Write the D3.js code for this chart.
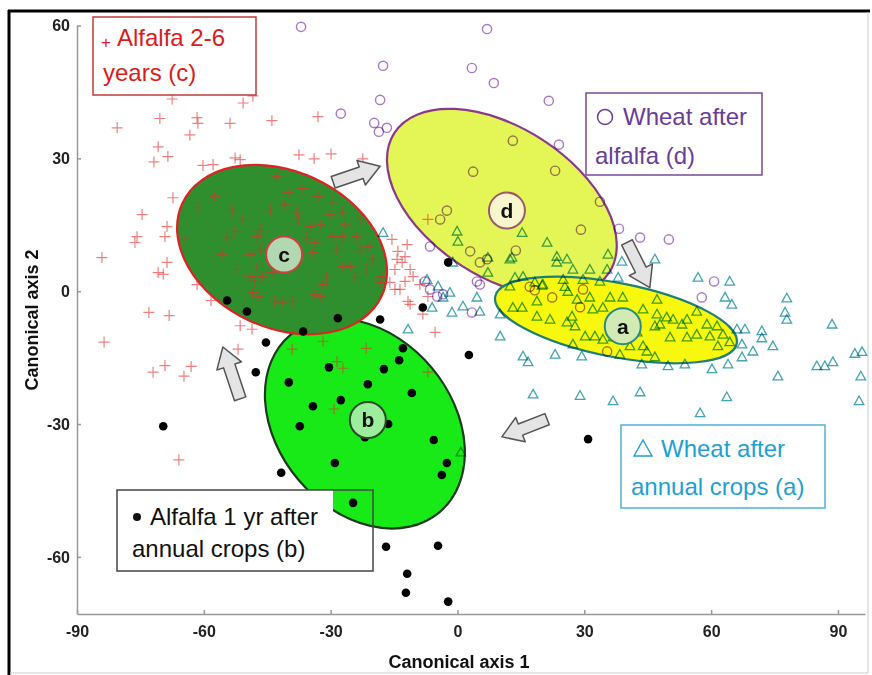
<!DOCTYPE html>
<html>
<head>
<meta charset="utf-8">
<script src="https://cdn.jsdelivr.net/npm/d3@7"></script>
<style>
  body { margin: 0; background: #fff; }
  text { font-family: "Liberation Sans", Arial, sans-serif; }
  .axis text { font-weight: bold; font-size: 16px; fill: #222; }
  .axis path, .axis line { stroke: #999; stroke-width: 1.5; }
</style>
</head>
<body>
<svg id="chart" width="872" height="675"></svg>
<script>
// tick values
var xTicks = [-90, -60, -30, 0, 30, 60, 90];
var yTicks = [60, 30, 0, -30, -60];

// Alfalfa 2-6 years (c)
var alfalfaOld = [
  [-67.5,43.4],[-50.7,42.5],[-48.4,44.1],[-80.5,36.9],[-70.4,39.0],[-61.6,39.2],[-61.4,37.9],[-53.8,37.9],
  [-43.9,38.5],[-63.3,35.3],[-70.8,32.6],[-68.5,30.4],[-71.8,29.2],[-52.6,30.1],[-57.8,28.6],[-60.2,28.4],
  [-37.5,30.8],[-33.0,39.4],[-33.9,29.9],[-29.9,31.0],[-22.4,29.9],[-7.0,16.2],[-67.3,21.1],[-74.6,17.3],
  [-68.7,14.6],[-51.4,29.7],[-84.1,7.6],[-75.8,12.3],[-76.3,11.0],[-69.2,12.3],[-68.7,6.5],[-70.8,4.2],
  [-69.6,3.8],[-61.6,1.5],[-58.3,-2.1],[-73.0,-4.8],[-68.2,-5.5],[-83.6,-11.5],[-48.6,-8.6],[-51.9,-13.1],
  [-72.0,-18.3],[-69.2,-16.8],[-63.0,-17.0],[-64.7,-19.2],[-65.9,-38.1],
  [-42.7,25.9],[-57.4,21.4],[-61.4,18.9],[-53.3,18.4],[-51.0,16.2],[-44.3,18.4],[-40.8,19.5],[-40.1,22.3],
  [-36.5,23.2],[-33.0,21.4],[-29.4,20.2],[-38.0,17.9],[-37.7,16.2],[-34.9,14.6],[-32.5,15.0],[-30.2,17.3],
  [-27.3,17.9],[-26.6,15.0],[-23.1,16.2],[-29.4,12.3],[-27.3,12.3],[-23.8,12.3],[-23.1,9.4],[-28.5,9.4],
  [-33.7,11.0],[-35.6,12.1],[-46.7,13.9],[-47.4,12.3],[-54.5,12.1],[-52.6,13.5],[-64.4,11.7],[-55.7,8.3],
  [-49.1,8.3],[-46.7,9.4],[-47.4,5.4],[-52.1,4.9],[-49.1,3.3],[-47.9,2.2],[-46.2,3.3],[-43.9,4.2],
  [-48.4,-0.3],[-47.2,-1.2],[-43.2,-2.3],[-41.5,-2.5],[-38.9,-2.3],[-33.7,-0.7],[-32.5,-1.2],[-31.8,1.5],
  [-30.9,3.1],[-27.1,5.6],[-25.4,5.6],[-24.2,3.1],[-21.4,4.9],[-20.0,7.2],[-21.2,10.1],[-34.2,8.7],
  [-18.3,2.0],[-14.8,0.4],[-14.3,7.2],[-51.4,-7.8],
  [-11.9,10.5],[-12.4,7.8],[-13.1,6.5],[-11.2,4.9],[-10.5,3.3],[-12.4,2.2],[-13.6,0.4],[-11.7,-2.3],
  [-8.9,1.5],[-7.0,-1.2],[-8.2,-5.2],[-5.3,-9.3],[-14.1,9.0],[-14.8,4.9],[-16.0,2.0],[-17.9,3.3],[-15.5,11.7],
  [-39.1,-13.1],[-31.8,-11.3],[-21.6,-12.9],[-28.5,-15.9],[-27.1,-17.4],[-29.2,-26.6],[-7.0,-18.3],[-11.2,-3.0]
];

// Wheat after alfalfa (d)
var wheatAfterAlfalfa = [
  [-37.0,59.7],[7.0,59.2],[-17.6,50.9],[3.4,50.4],[8.6,47.0],[-18.3,43.2],[21.6,43.0],[-27.6,40.1],
  [-19.7,38.0],[-18.6,36.0],[-16.7,36.9],[24.0,33.1],[13.1,34.0],[3.7,27.0],[23.1,27.2],[-2.5,18.2],
  [-4.1,16.2],[-6.5,10.1],[29.2,13.9],[33.7,20.2],[38.2,14.1],[3.0,9.0],[5.3,6.5],[7.0,7.2],
  [13.8,9.2],[4.6,2.2],[5.3,1.5],[17.1,1.0],[18.3,0.2],[22.4,-1.4],[-7.7,2.2],[-6.5,0.4],
  [-4.8,-1.2],[-3.4,-0.7],[3.4,-4.8],[43.2,12.1],[50.0,11.7],[60.7,2.2],[57.8,-1.4],[29.7,0.4],
  [29.0,-3.6],[35.4,-13.6]
];

// Wheat after annual crops (a)
var wheatAfterAnnual = [
  [35.6,8.3],[38.9,6.7],[46.7,7.2],[31.3,4.9],[27.3,4.9],[35.4,4.9],[38.0,3.1],[56.9,3.1],
  [64.4,2.2],[63.3,-1.4],[64.9,-3.0],[77.9,-1.6],[77.5,-4.8],[77.9,-6.4],[88.6,-7.5],[47.2,-1.9],
  [28.3,-1.9],[31.3,-1.4],[36.1,-1.4],[39.1,-1.4],[32.0,-4.1],[34.4,-3.7],[27.8,-7.9],[30.2,-10.2],
  [32.5,-10.2],[34.4,-10.9],[36.8,-10.4],[43.9,-4.1],[47.2,-5.2],[49.5,-5.9],[51.0,-6.4],[46.7,-7.9],
  [47.9,-7.5],[53.1,-7.5],[50.3,-10.4],[54.3,-10.4],[56.6,-9.8],[59.0,-7.5],[61.4,-7.9],[59.7,-10.2],
  [62.8,-9.8],[64.4,-11.5],[61.6,-12.4],[66.1,-8.6],[68.0,-8.6],[72.0,-9.0],[72.0,-10.6],[69.9,-13.6],
  [67.3,-12.0],[67.3,-14.9],[64.0,-16.5],[60.2,-17.6],[74.6,-12.4],[75.8,-19.2],[85.0,-16.9],[86.9,-16.9],
  [88.8,-16.0],[94.0,-14.1],[95.7,-13.7],[95.4,-19.2],[95.0,-24.8],[29.0,-23.6],[36.8,-24.8],[43.2,-22.8],
  [63.7,-23.9],[57.4,-27.5],[43.6,-16.5],[49.8,-16.9],[53.8,-16.5],[46.7,-14.9],[44.8,-13.6],[43.9,-12.4],
  [29.4,-14.7],[38.4,-14.3],[40.8,-12.4],[42.5,-9.3],[56.6,-4.6],[54.3,-6.4],[27.3,-12.0],[27.1,-5.7],
  [-17.6,13.2],[-0.1,13.5],[0.1,11.2],[-1.1,6.5],[-6.0,-3.7],[-4.6,1.1],[-1.8,-0.3],[-3.4,-1.4],
  [-1.3,-4.8],[1.3,-3.4],[5.3,-4.6],[10.1,-5.2],[12.4,1.1],[13.1,-3.7],[4.6,-1.4],[7.2,4.2],
  [7.2,7.6],[12.4,7.2],[15.3,13.2],[21.2,11.0],[23.5,7.8],[25.9,7.2],[18.3,2.0],[20.2,1.5],
  [25.4,1.0],[15.3,-3.7],[18.8,-2.3],[18.8,-5.7],[21.9,-6.4],[25.9,-7.0],[-11.7,-8.6],[10.1,-10.2],
  [15.5,-14.7],[16.7,-16.0],[23.1,-14.3],[17.9,-23.3],[0.8,-36.4],[-7.2,2.6],[12.9,7.6],[23.5,6.5],
  [33.7,2.2],[13.6,3.1],[15.5,3.3],[20.0,1.3],[25.0,2.6],[29.7,2.6],[26.1,-0.1]
];

// Alfalfa 1 yr after annual crops (b)
var alfalfaFirst = [
  [-54.5,-2.1],[-49.8,-4.6],[-45.3,-11.6],[-47.7,-18.3],[-39.9,-20.6],[-69.6,-30.5],[-36.5,-9.1],[-28.3,-6.1],
  [-18.3,-6.4],[-8.2,-3.7],[-2.2,6.5],[-12.9,-12.9],[-13.8,-15.6],[2.7,-14.4],[-30.4,-17.2],[-17.4,-17.6],
  [-21.2,-21.0],[-10.8,-23.0],[-27.6,-24.6],[-34.2,-26.0],[-37.3,-30.5],[-16.4,-30.0],[-21.9,-33.0],[-5.6,-33.6],
  [-29.0,-38.8],[-2.5,-38.8],[-3.7,-41.5],[-41.7,-41.0],[-24.7,-47.8],[-16.9,-57.7],[-4.6,-57.5],[-11.9,-63.8],
  [-12.2,-68.1],[-2.2,-70.1],[30.9,-33.4]
];

// group ellipses: centre, semi axes (axis-1 units), tilt in degrees
var groupNames = ['b', 'c', 'd', 'a'];
var groupCx = [-21.9, -41.5, 10.5, 37.5];
var groupCy = [-29.9, 9.4, 20.0, -6.5];
var groupRa = [27.4, 26.0, 30.3, 29.1];
var groupRb = [20.6, 18.5, 17.7, 8.75];
var groupTilt = [50, 25, 33, 11];
var labelX = [-21.2, -41.0, 11.7, 39.1];
var labelY = [-29.1, 8.3, 18.2, -7.9];

// succession arrows, tail -> tip
var arrowFrom = [[-29.4, 24.6], [40.1, 11.0], [21.2, -28.9], [-51.4, -24.3]];
var arrowTo = [[-18.3, 28.2], [45.5, 0.8], [10.5, -32.9], [-55.5, -12.6]];

var ellipseFill = { a: '#f8f80e', b: '#18ea18', c: '#2f8f2f', d: '#e4f556' };
var ellipseStroke = { a: '#1f7f78', b: '#1c3a1c', c: '#e02222', d: '#8a3a8a' };
var badgeFill = { a: '#d2eab4', b: '#9cee9c', c: '#b2d8b2', d: '#f8f6cc' };
var badgeStroke = { a: '#2a8a80', b: '#2a4a2a', c: '#d04040', d: '#9a5a6a' };

var svg = d3.select('#chart');

var x = d3.scaleLinear().domain([-90, 96.4]).range([77, 865]);
var y = d3.scaleLinear().domain([-72.9, 60]).range([614, 25.5]);

// picture frame
svg.append('line').attr('x1', 9).attr('x2', 9).attr('y1', 10).attr('y2', 675)
  .attr('stroke', '#000').attr('stroke-width', 3);
svg.append('line').attr('x1', 8).attr('x2', 870).attr('y1', 11).attr('y2', 11)
  .attr('stroke', '#000').attr('stroke-width', 3);
svg.append('line').attr('x1', 868).attr('x2', 868).attr('y1', 12).attr('y2', 673)
  .attr('stroke', '#ccc').attr('stroke-width', 1);
svg.append('line').attr('x1', 10).attr('x2', 868).attr('y1', 673).attr('y2', 673)
  .attr('stroke', '#ccc').attr('stroke-width', 1);

// axes (plain hyphen minus like the original)
var fmt = function(d) { return String(d); };
svg.append('g').attr('class', 'axis')
  .attr('transform', 'translate(0,614)')
  .call(d3.axisBottom(x).tickValues(xTicks).tickFormat(fmt).tickSize(-4).tickSizeOuter(0).tickPadding(12));
svg.append('g').attr('class', 'axis')
  .attr('transform', 'translate(77,0)')
  .call(d3.axisLeft(y).tickValues(yTicks).tickFormat(fmt).tickSize(-4).tickSizeOuter(0).tickPadding(7));

svg.append('text')
  .attr('x', 459).attr('y', 668)
  .attr('text-anchor', 'middle')
  .attr('font-weight', 'bold').attr('font-size', 18).attr('fill', '#111')
  .text('Canonical axis 1');
svg.append('text')
  .attr('transform', 'translate(38,320) rotate(-90)')
  .attr('text-anchor', 'middle')
  .attr('font-weight', 'bold').attr('font-size', 18).attr('fill', '#111')
  .text('Canonical axis 2');

// ellipses
var k = x(1) - x(0);
svg.selectAll('.group-ellipse')
  .data(groupNames)
  .enter()
  .append('ellipse')
  .attr('class', 'group-ellipse')
  .attr('transform', function(d, i) {
    return 'translate(' + x(groupCx[i]) + ',' + y(groupCy[i]) + ') rotate(' + groupTilt[i] + ')';
  })
  .attr('rx', function(d, i) { return groupRa[i] * k; })
  .attr('ry', function(d, i) { return groupRb[i] * k; })
  .attr('fill', function(d) { return ellipseFill[d]; })
  .attr('stroke', function(d) { return ellipseStroke[d]; })
  .attr('stroke-width', 2.2);

// points
var pts = svg.append('g');

pts.selectAll('.cross')
  .data(alfalfaOld)
  .enter()
  .append('path')
  .attr('class', 'cross')
  .attr('transform', function(d) { return 'translate(' + x(d[0]) + ',' + y(d[1]) + ')'; })
  .attr('d', 'M-5.5,0H5.5M0,-5.5V5.5')
  .attr('stroke', '#e82a2a')
  .attr('stroke-width', 1.2)
  .attr('opacity', 0.6);

pts.selectAll('.ring')
  .data(wheatAfterAlfalfa)
  .enter()
  .append('circle')
  .attr('class', 'ring')
  .attr('cx', function(d) { return x(d[0]); })
  .attr('cy', function(d) { return y(d[1]); })
  .attr('r', 4.6)
  .attr('fill', 'none')
  .attr('stroke', '#a878c8')
  .attr('stroke-width', 1.4)
  .style('mix-blend-mode', 'multiply');

pts.selectAll('.tri')
  .data(wheatAfterAnnual)
  .enter()
  .append('path')
  .attr('class', 'tri')
  .attr('transform', function(d) { return 'translate(' + x(d[0]) + ',' + y(d[1]) + ')'; })
  .attr('d', 'M0,-5L4.8,3.6L-4.8,3.6Z')
  .attr('fill', 'none')
  .attr('stroke', '#44a4b2')
  .attr('stroke-width', 1.3)
  .style('mix-blend-mode', 'multiply');

pts.selectAll('.dot')
  .data(alfalfaFirst)
  .enter()
  .append('circle')
  .attr('class', 'dot')
  .attr('cx', function(d) { return x(d[0]); })
  .attr('cy', function(d) { return y(d[1]); })
  .attr('r', 4.3)
  .attr('fill', '#000');

// group badges
var badge = svg.selectAll('.badge')
  .data(groupNames)
  .enter()
  .append('g')
  .attr('class', 'badge')
  .attr('transform', function(d, i) { return 'translate(' + x(labelX[i]) + ',' + y(labelY[i]) + ')'; });
badge.append('circle')
  .attr('r', 18)
  .attr('fill', function(d) { return badgeFill[d]; })
  .attr('stroke', function(d) { return badgeStroke[d]; })
  .attr('stroke-width', 2);
badge.append('text')
  .attr('text-anchor', 'middle')
  .attr('dy', '0.35em')
  .attr('font-weight', 'bold')
  .attr('font-size', 21)
  .attr('fill', '#111')
  .text(function(d) { return d; });

// block arrows
svg.selectAll('.step')
  .data(arrowFrom)
  .enter()
  .append('path')
  .attr('class', 'step')
  .attr('transform', function(d, i) {
    var x0 = x(d[0]), y0 = y(d[1]), x1 = x(arrowTo[i][0]), y1 = y(arrowTo[i][1]);
    return 'translate(' + x0 + ',' + y0 + ') rotate(' + (Math.atan2(y1 - y0, x1 - x0) * 180 / Math.PI) + ')';
  })
  .attr('d', function(d, i) {
    var L = Math.hypot(x(arrowTo[i][0]) - x(d[0]), y(arrowTo[i][1]) - y(d[1]));
    var h = L - 20;
    return 'M0,-6L' + h + ',-6L' + h + ',-13L' + L + ',0L' + h + ',13L' + h + ',6L0,6Z';
  })
  .attr('fill', '#e4e4e4')
  .attr('stroke', '#555')
  .attr('stroke-width', 1.5)
  .attr('stroke-linejoin', 'round');

// legends
function legendBox(x0, y0, x1, y1, border, fillTo) {
  svg.append('rect').attr('x', x0).attr('y', y0)
    .attr('width', (fillTo || x1) - x0).attr('height', y1 - y0).attr('fill', '#fff');
  svg.append('rect').attr('x', x0).attr('y', y0)
    .attr('width', x1 - x0).attr('height', y1 - y0)
    .attr('fill', 'none').attr('stroke', border).attr('stroke-width', 1.5);
}
function legendText(tx, ty, color, str) {
  svg.append('text').attr('x', tx).attr('y', ty)
    .attr('font-size', 24).attr('fill', color).text(str);
}

legendBox(93, 17, 256, 95, '#c43a3a');
svg.append('text').attr('x', 101).attr('y', 48).attr('font-size', 17).attr('fill', '#d81c1c').text('+');
legendText(117, 46, '#d81c1c', 'Alfalfa 2-6');
legendText(103, 81, '#d81c1c', 'years (c)');

legendBox(586, 93, 762, 175, '#7a4a9a');
svg.append('circle').attr('cx', 605).attr('cy', 117).attr('r', 7.5)
  .attr('fill', 'none').attr('stroke', '#6a3d9a').attr('stroke-width', 1.5);
legendText(623, 125, '#6a3d9a', 'Wheat after');
legendText(595, 164, '#6a3d9a', 'alfalfa (d)');

legendBox(621, 425, 825, 508, '#4fb2d4');
svg.append('path').attr('d', 'M643,440L652,456L634,456Z')
  .attr('fill', 'none').attr('stroke', '#1fa0d2').attr('stroke-width', 1.4);
legendText(661, 457, '#1fa0d2', 'Wheat after');
legendText(631, 495, '#1fa0d2', 'annual crops (a)');

legendBox(117, 490, 373, 571, '#444', 333);
svg.append('circle').attr('cx', 137).attr('cy', 517).attr('r', 4).attr('fill', '#111');
legendText(150, 525, '#111', 'Alfalfa 1 yr after');
legendText(132, 557, '#111', 'annual crops (b)');
</script>
</body>
</html>
